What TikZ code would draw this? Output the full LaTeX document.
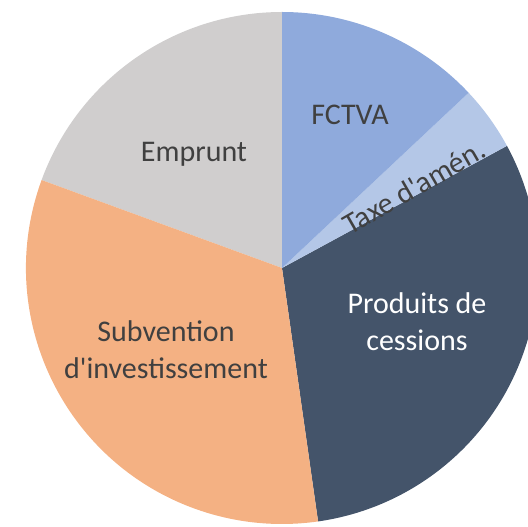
\documentclass[tikz,border=0pt]{standalone}
\usepackage{fontspec}
\setmainfont{Carlito}
\usepackage{tikz}

\definecolor{fctvablue}{HTML}{8FAADC}
\definecolor{taxeblue}{HTML}{B4C7E7}
\definecolor{cessionblue}{HTML}{44546A}
\definecolor{subvorange}{HTML}{F4B183}
\definecolor{empruntgray}{HTML}{D0CECE}
\definecolor{darktext}{HTML}{404040}

\begin{document}
\begin{tikzpicture}[x=1pt,y=1pt,
    slicetext/.style={font=\fontsize{30}{37}\selectfont, text=darktext, align=center}]
  \useasboundingbox (-282,-259) rectangle (246,268);
  \clip (-282,-259) rectangle (246,268);

  % slices
  \fill[cessionblue] (0,0) -- (-81.9:256) arc[start angle=-81.9, end angle=28.5, radius=256] -- cycle;
  \fill[taxeblue] (0,0) -- (28.5:256) arc[start angle=28.5, end angle=43.2, radius=256] -- cycle;
  \fill[fctvablue] (0,0) -- (43.2:256) arc[start angle=43.2, end angle=90, radius=256] -- cycle;
  \fill[empruntgray] (0,0) -- (90:256) arc[start angle=90, end angle=159.9, radius=256] -- cycle;
  \fill[subvorange] (0,0) -- (159.9:256) arc[start angle=159.9, end angle=278.1, radius=256] -- cycle;

  % labels
  \node[slicetext] (fctva) at (68,153) {FCTVA};
  \node[slicetext, rotate=30] (taxe) at (132,81) {Taxe d\textquotesingle am\'en.};
  \node[slicetext, text=white] (cessions) at (135,-54) {Produits de\\cessions};
  \node[slicetext] (subvention) at (-116,-82) {Subvention\\d\textquotesingle investissement};
  \node[slicetext] (emprunt) at (-88,114) {Emprunt};
\end{tikzpicture}
\end{document}
